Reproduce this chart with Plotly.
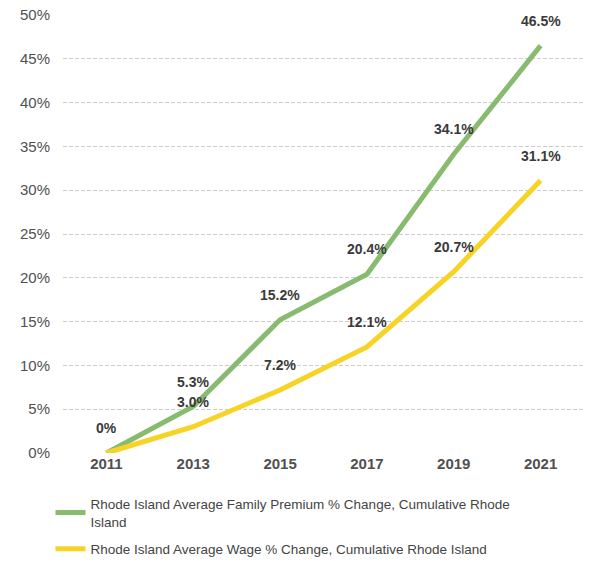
import plotly.graph_objects as go

years = ["2011", "2013", "2015", "2017", "2019", "2021"]
premium = [0, 5.3, 15.2, 20.4, 34.1, 46.5]
wage = [0, 3.0, 7.2, 12.1, 20.7, 31.1]
premium_labels = ["0%", "5.3%", "15.2%", "20.4%", "34.1%", "46.5%"]
wage_labels = ["", "3.0%", "7.2%", "12.1%", "20.7%", "31.1%"]
y_ticks = [0, 5, 10, 15, 20, 25, 30, 35, 40, 45, 50]
y_tick_text = [f"{v}%" for v in y_ticks]

name_premium = "Rhode Island Average Family Premium % Change, Cumulative Rhode<br>Island"
name_wage = "Rhode Island Average Wage % Change, Cumulative Rhode Island"

green = "#88bb6f"
yellow = "#f6d324"

fig = go.Figure()
fig.add_trace(go.Scatter(x=years, y=premium, mode="lines", name=name_premium,
                         legendgroup="premium",
                         line=dict(color=green, width=5)))
fig.add_trace(go.Scatter(x=years, y=wage, mode="lines", name=name_wage,
                         legendgroup="wage",
                         line=dict(color=yellow, width=5)))

label_font = dict(size=14, color="#3a3a3a", family="Liberation Sans", weight="bold")
annotations = []
for i, (y, t) in enumerate(zip(premium, premium_labels)):
    if t:
        annotations.append(dict(x=i, y=y, xref="x", yref="y", text=t, showarrow=False,
                                yshift=25, font=label_font))
for i, (y, t) in enumerate(zip(wage, wage_labels)):
    if t:
        annotations.append(dict(x=i, y=y, xref="x", yref="y", text=t, showarrow=False,
                                yshift=25, font=label_font))

fig.update_layout(
    width=591, height=572,
    margin=dict(l=63, r=7, t=15, b=119, autoexpand=False),
    paper_bgcolor="white", plot_bgcolor="white",
    font=dict(family="Liberation Sans", size=14, color="#444444"),
    showlegend=True,
    legend=dict(x=-0.024, y=-0.081, xanchor="left", yanchor="top",
                orientation="v", font=dict(size=13.5, color="#444444"),
                tracegroupgap=7, bgcolor="rgba(0,0,0,0)"),
    annotations=annotations,
)
fig.update_xaxes(type="category", range=[-0.5, 5.5], showgrid=False, ticks="",
                 showline=False, zeroline=False,
                 tickfont=dict(size=15, color="#505050", weight="bold"))
fig.update_yaxes(range=[0, 50], tickvals=y_ticks, ticktext=y_tick_text,
                 showgrid=True, gridcolor="#cccccc", griddash="4px,2px", gridwidth=1,
                 zeroline=False, showline=False, ticks="", ticklabelstandoff=12,
                 tickfont=dict(size=15, color="#505050"))

fig.write_html("out.html", config={"displayModeBar": False},
               post_script="document.body.style.margin='0';")
